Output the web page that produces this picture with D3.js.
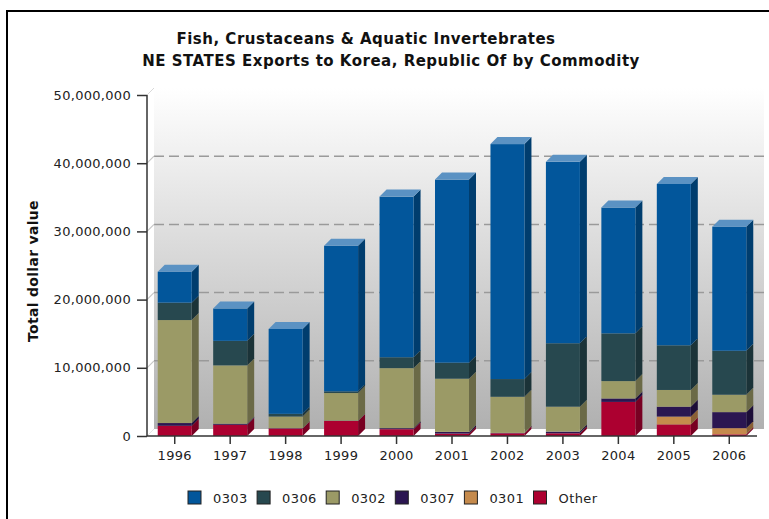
<!DOCTYPE html>
<html>
<head>
<meta charset="utf-8">
<script src="https://cdn.jsdelivr.net/npm/d3@7"></script>
<style>
  html, body { margin: 0; padding: 0; background: #fff; }
  svg { display: block; }
  text { font-family: "DejaVu Sans", sans-serif; }
</style>
</head>
<body>
<svg id="chart" width="769" height="519"></svg>
<script>
// ---- data ----
const years = ["1996","1997","1998","1999","2000","2001","2002","2003","2004","2005","2006"];
const seriesKeys = ["Other","0301","0307","0302","0306","0303"]; // bottom to top
const legendKeys = ["0303","0306","0302","0307","0301","Other"];
const vOther = [1500000,1650000,1100000,2200000,1000000,350000,400000,400000,5000000,1700000,250000];
const v0301  = [0,0,0,0,0,0,0,0,0,1150000,900000];
const v0307  = [400000,150000,50000,50000,150000,250000,50000,250000,500000,1450000,2350000];
const v0302  = [15100000,8550000,1700000,4050000,8800000,7800000,5300000,3650000,2550000,2450000,2550000];
const v0306  = [2550000,3600000,400000,250000,1600000,2350000,2600000,9300000,7000000,6550000,6450000];
const v0303  = [4550000,4750000,12450000,21350000,23550000,26850000,34450000,26600000,18450000,23650000,18200000];
const yTicks = [0,10000000,20000000,30000000,40000000,50000000];
const titleLines = ["Fish, Crustaceans & Aquatic Invertebrates","NE STATES Exports to Korea, Republic Of by Commodity"];
const yTitle = "Total dollar value";

const seriesValues = {"Other": vOther, "0301": v0301, "0307": v0307, "0302": v0302, "0306": v0306, "0303": v0303};
const colors = {"0303":"#02569b","0306":"#27484f","0302":"#9b9a66","0307":"#2b1651","0301":"#c58a4c","Other":"#ac0030"};
const sideColors = {"0303":"#003d6e","0306":"#1b3338","0302":"#6b6a47","0307":"#1d0e38","0301":"#8a6035","Other":"#780022"};
const topColor = "#5b92c3";

// ---- layout ----
const svg = d3.select("#chart");
const x0 = 147, x1 = 757, yBase = 436, yTop = 95, depth = 7;

const x = d3.scaleBand().domain(years).range([x0, x1]).paddingInner(0.387).paddingOuter(0.1935);
const y = d3.scaleLinear().domain([0, 50000000]).range([yBase, yTop]);

// outer frame
svg.append("rect").attr("x", 7).attr("y", 11).attr("width", 900).attr("height", 900)
  .attr("fill", "#fff").attr("stroke", "#000").attr("stroke-width", 2);

// back wall gradient
const defs = svg.append("defs");
const grad = defs.append("linearGradient").attr("id", "wall").attr("x1", 0).attr("y1", 0).attr("x2", 0).attr("y2", 1);
grad.append("stop").attr("offset", "0%").attr("stop-color", "#ffffff");
grad.append("stop").attr("offset", "100%").attr("stop-color", "#b0b0b0");

svg.append("rect")
  .attr("x", x0 + depth).attr("y", y(50000000) - depth)
  .attr("width", (x1 + depth) - (x0 + depth)).attr("height", y(0) - y(50000000))
  .attr("fill", "url(#wall)");

// diagonal edges of side wall
svg.append("line").attr("x1", x0).attr("y1", y(50000000)).attr("x2", x0 + depth).attr("y2", y(50000000) - depth)
  .attr("stroke", "#d8d8d8").attr("stroke-width", 1);
svg.append("line").attr("x1", x0).attr("y1", y(0)).attr("x2", x0 + depth).attr("y2", y(0) - depth)
  .attr("stroke", "#e4e4e4").attr("stroke-width", 1);

// gridlines
const grid = svg.append("g");
yTicks.filter(t => t > 0 && t < 50000000).forEach(t => {
  grid.append("line").attr("x1", x0 + depth).attr("x2", x1 + depth)
    .attr("y1", y(t) - depth).attr("y2", y(t) - depth)
    .attr("stroke", "#9a9a9a").attr("stroke-width", 1.5).attr("stroke-dasharray", "10,5");
  grid.append("line").attr("x1", x0).attr("y1", y(t)).attr("x2", x0 + depth).attr("y2", y(t) - depth)
    .attr("stroke", "#c8c8c8").attr("stroke-width", 1.2);
});

// stacked data
const table = years.map((yr, i) => {
  const o = {year: yr};
  seriesKeys.forEach(k => o[k] = seriesValues[k][i]);
  return o;
});
const stacked = d3.stack().keys(seriesKeys)(table);

const bars = svg.append("g");
const bw = x.bandwidth();
years.forEach((yr, i) => {
  const bx = x(yr);
  stacked.forEach(layer => {
    const k = layer.key;
    const d = layer[i];
    if (d[1] - d[0] <= 0) return;
    const yt = y(d[1]), yb = y(d[0]);
    bars.append("path")
      .attr("d", `M${bx + bw},${yb} L${bx + bw + depth},${yb - depth} L${bx + bw + depth},${yt - depth} L${bx + bw},${yt} Z`)
      .attr("fill", sideColors[k]);
    bars.append("rect").attr("x", bx).attr("y", yt).attr("width", bw).attr("height", yb - yt)
      .attr("fill", colors[k]);
  });
  const topLayer = stacked[stacked.length - 1][i];
  const yt = y(topLayer[1]);
  bars.append("path")
    .attr("d", `M${bx},${yt} L${bx + depth},${yt - depth} L${bx + bw + depth},${yt - depth} L${bx + bw},${yt} Z`)
    .attr("fill", topColor);
});

// axes
const yAxis = svg.append("g").attr("transform", `translate(${x0},0)`)
  .call(d3.axisLeft(y).tickValues(yTicks).tickFormat(d3.format(",")).tickSize(10).tickPadding(6));
const xAxis = svg.append("g").attr("transform", `translate(0,${yBase})`)
  .call(d3.axisBottom(x).tickSize(8).tickPadding(7).tickSizeOuter(0));
[yAxis, xAxis].forEach(a => {
  a.select(".domain").attr("stroke", "#333").attr("stroke-width", 1.5);
  a.selectAll(".tick line").attr("stroke", "#333").attr("stroke-width", 1.5);
  a.selectAll(".tick text").attr("fill", "#222").style("font-size", "13px")
    .style("letter-spacing", "0.3px")
    .style("font-family", '"DejaVu Sans", sans-serif');
});
yAxis.select(".domain").attr("d", `M0,${yTop}V${yBase}`);
xAxis.select(".domain").attr("d", `M${x0},0H${x1}`);

// titles
svg.append("text").attr("x", 366).attr("y", 44).attr("text-anchor", "middle")
  .style("font-size", "15px").style("font-weight", "bold").style("letter-spacing", "0.5px")
  .attr("fill", "#111").text(titleLines[0]);
svg.append("text").attr("x", 391).attr("y", 66).attr("text-anchor", "middle")
  .style("font-size", "15px").style("font-weight", "bold").style("letter-spacing", "0.5px")
  .attr("fill", "#111").text(titleLines[1]);

svg.append("text").attr("transform", "translate(38,271) rotate(-90)").attr("text-anchor", "middle")
  .style("font-size", "14px").style("font-weight", "bold").style("letter-spacing", "0.3px")
  .attr("fill", "#111").text(yTitle);

// legend
const lg = svg.append("g");
legendKeys.forEach((k, i) => {
  const lx = 188 + i * 69.1;
  lg.append("rect").attr("x", lx).attr("y", 491).attr("width", 13).attr("height", 13)
    .attr("fill", colors[k]).attr("stroke", "#222").attr("stroke-width", 1);
  lg.append("text").attr("x", lx + 25).attr("y", 503).style("font-size", "13px")
    .style("letter-spacing", "0.4px").attr("fill", "#222").text(k);
});
</script>
</body>
</html>
